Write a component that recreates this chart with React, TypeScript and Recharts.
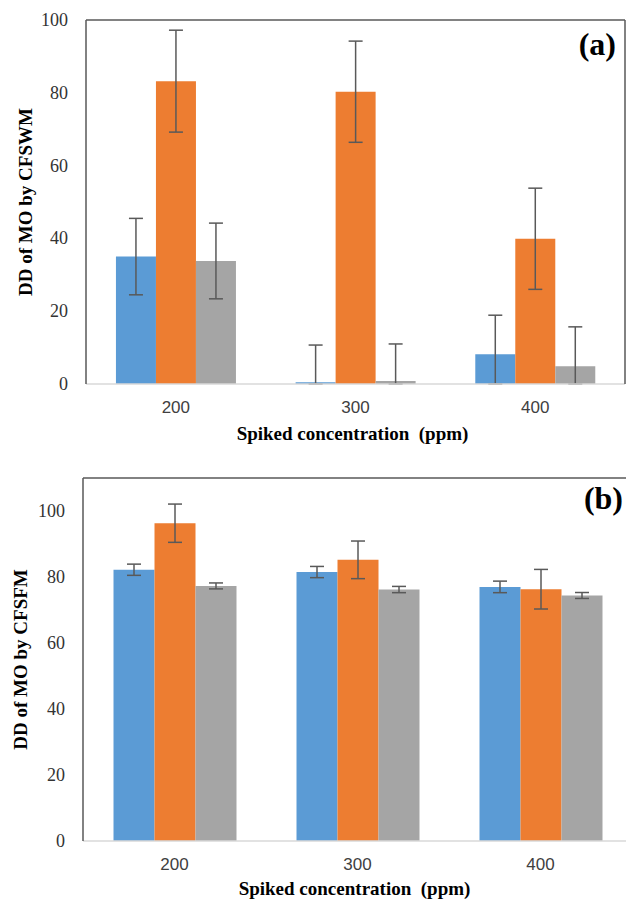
import { Bar, BarChart, ErrorBar, XAxis, YAxis } from "recharts";

const categories = ["200", "300", "400"];

// (a) degradation by CFSWM
const cfswmBlue = [35.0, 0.5, 8.2];
const cfswmOrange = [83.2, 80.3, 39.9];
const cfswmGray = [33.8, 0.8, 4.9];
const cfswmBlueErr = [10.5, 10.2, 10.7];
const cfswmOrangeErr = [14.0, 13.9, 13.9];
const cfswmGrayErr = [10.4, 10.2, 10.8];

// (b) degradation by CFSFM
const cfsfmBlue = [82.2, 81.5, 77.0];
const cfsfmOrange = [96.3, 85.2, 76.3];
const cfsfmGray = [77.3, 76.2, 74.4];
const cfsfmBlueErr = [1.7, 1.7, 1.75];
const cfsfmOrangeErr = [5.8, 5.7, 6.0];
const cfsfmGrayErr = [0.9, 0.95, 0.9];

const yTicks = [0, 20, 40, 60, 80, 100];

const SERIF = "Liberation Serif";
const SANS = "Liberation Sans";
const FRAME = "#595959";

// error bars stop at the axis, like Excel does
const err = (v: number, e: number) => [Math.min(v, e), e];

function buildRows(
  s1: number[],
  s2: number[],
  s3: number[],
  e1: number[],
  e2: number[],
  e3: number[]
) {
  return categories.map((cat, i) => ({
    cat,
    s1: s1[i],
    s2: s2[i],
    s3: s3[i],
    e1: err(s1[i], e1[i]),
    e2: err(s2[i], e2[i]),
    e3: err(s3[i], e3[i]),
  }));
}

const XTick = (props: any) => (
  <text
    x={props.x}
    y={props.y}
    dy={21}
    textAnchor="middle"
    fontFamily={SANS}
    fontSize={17}
    fill="#404040"
  >
    {props.payload.value}
  </text>
);

const YTick = (props: any) => (
  <text
    x={props.x}
    y={props.y}
    dy={6}
    textAnchor="end"
    fontFamily={SERIF}
    fontSize={18}
    fill="#333"
  >
    {props.payload.value}
  </text>
);

type PanelProps = {
  rows: ReturnType<typeof buildRows>;
  width: number;
  height: number;
  top: number;
  right: number;
  yWidth: number;
  xHeight: number;
  xTitleDy: number;
  yMax: number;
  yTitle: string;
  yTitleX: number;
  tag: string;
  tagDy: number;
};

function Panel(p: PanelProps) {
  const xTitle = (props: any) => {
    const vb = props.viewBox;
    return (
      <text
        x={vb.x + vb.width / 2 - 3}
        y={vb.y + p.xTitleDy}
        textAnchor="middle"
        fontFamily={SERIF}
        fontWeight="bold"
        fontSize={19}
        fill="#000"
        style={{ whiteSpace: "pre" }}
      >
        {"Spiked concentration  (ppm)"}
      </text>
    );
  };

  const yTitle = (props: any) => {
    const vb = props.viewBox;
    const cy = vb.y + vb.height / 2;
    return (
      <text
        x={p.yTitleX}
        y={cy}
        transform={`rotate(-90, ${p.yTitleX}, ${cy})`}
        textAnchor="middle"
        fontFamily={SERIF}
        fontWeight="bold"
        fontSize={19}
        fill="#000"
      >
        {p.yTitle}
      </text>
    );
  };

  const tagLabel = (props: any) => {
    const vb = props.viewBox;
    return (
      <text
        x={vb.x + vb.width - 9}
        y={vb.y + vb.height + p.tagDy}
        textAnchor="end"
        fontFamily={SERIF}
        fontWeight="bold"
        fontSize={32}
        fill="#000"
      >
        {p.tag}
      </text>
    );
  };

  return (
    <BarChart
      width={p.width}
      height={p.height}
      data={p.rows}
      margin={{ top: p.top - 1, right: p.right - 1, left: 0, bottom: 0 }}
      barCategoryGap="16.67%"
      barGap={0}
    >
      <XAxis
        dataKey="cat"
        height={p.xHeight}
        axisLine={{ stroke: "#D9D9D9", strokeWidth: 1.5 }}
        tickLine={false}
        tick={XTick}
        label={xTitle}
      />
      <XAxis
        xAxisId="top"
        dataKey="cat"
        orientation="top"
        height={1}
        axisLine={{ stroke: FRAME, strokeWidth: 1.5 }}
        tick={false}
        tickLine={false}
        label={tagLabel}
      />
      <YAxis
        width={p.yWidth}
        domain={[0, p.yMax]}
        ticks={yTicks}
        allowDataOverflow
        axisLine={{ stroke: FRAME, strokeWidth: 1.5 }}
        tickLine={false}
        tickMargin={12}
        tick={YTick}
        label={yTitle}
      />
      <YAxis
        yAxisId="right"
        orientation="right"
        width={1}
        domain={[0, p.yMax]}
        axisLine={{ stroke: FRAME, strokeWidth: 1.5 }}
        tick={false}
        tickLine={false}
      />
      <Bar dataKey="s1" fill="#5B9BD5" isAnimationActive={false}>
        <ErrorBar dataKey="e1" width={7} stroke="#595959" strokeWidth={1.5} />
      </Bar>
      <Bar dataKey="s2" fill="#ED7D31" isAnimationActive={false}>
        <ErrorBar dataKey="e2" width={7} stroke="#595959" strokeWidth={1.5} />
      </Bar>
      <Bar dataKey="s3" fill="#A5A5A5" isAnimationActive={false}>
        <ErrorBar dataKey="e3" width={7} stroke="#595959" strokeWidth={1.5} />
      </Bar>
    </BarChart>
  );
}

export default function App() {
  const rowsA = buildRows(
    cfswmBlue,
    cfswmOrange,
    cfswmGray,
    cfswmBlueErr,
    cfswmOrangeErr,
    cfswmGrayErr
  );
  const rowsB = buildRows(
    cfsfmBlue,
    cfsfmOrange,
    cfsfmGray,
    cfsfmBlueErr,
    cfsfmOrangeErr,
    cfsfmGrayErr
  );

  return (
    <div
      style={{
        position: "absolute",
        left: 0,
        top: 0,
        width: 626,
        height: 901,
        overflow: "hidden",
        background: "#fff",
      }}
    >
      <div style={{ position: "absolute", left: 0, top: 0 }}>
        <Panel
          rows={rowsA}
          width={626}
          height={450}
          top={20}
          right={1}
          yWidth={86}
          xHeight={66}
          xTitleDy={56}
          yMax={100}
          yTitle="DD of MO by CFSWM"
          yTitleX={32}
          tag="(a)"
          tagDy={35}
        />
      </div>
      <div style={{ position: "absolute", left: 0, top: 450 }}>
        <Panel
          rows={rowsB}
          width={640}
          height={451}
          top={28}
          right={8}
          yWidth={83}
          xHeight={60}
          xTitleDy={54}
          yMax={110}
          yTitle="DD of MO by CFSFM"
          yTitleX={27}
          tag="(b)"
          tagDy={31}
        />
      </div>
    </div>
  );
}
